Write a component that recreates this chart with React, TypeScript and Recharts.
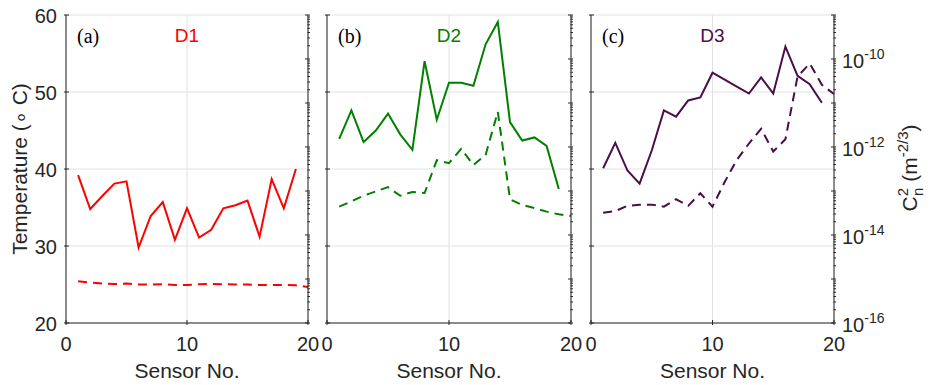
import React from 'react';
import { LineChart, Line, XAxis, YAxis, CartesianGrid } from 'recharts';

// sensor index along each detector
const sensors = [1, 2, 3, 4, 5, 6, 7, 8, 9, 10, 11, 12, 13, 14, 15, 16, 17, 18, 19, 20];
const sensorTicks = [0, 10, 20];
const tempTicks = [20, 30, 40, 50, 60];
const cn2Decades = [-16, -15, -14, -13, -12, -11, -10, -9];
const cn2LabelDecades = [-16, -14, -12, -10];

// temperature (solid, left axis)
const d1Temp = [39.2, 34.8, 36.5, 38.1, 38.4, 29.8, 33.9, 35.7, 30.8, 34.9, 31.1, 32.1, 34.9, 35.3, 35.9, 31.2, 38.7, 34.9, 40.0];
const d2Temp = [43.9, 47.6, 43.5, 45.0, 47.2, 44.5, 42.5, 54.0, 46.4, 51.2, 51.2, 50.8, 56.2, 59.1, 46.1, 43.7, 44.1, 43.0, 37.4];
const d3Temp = [40.1, 43.4, 39.8, 38.1, 42.4, 47.6, 46.8, 48.9, 49.3, 52.5, 51.6, 50.7, 49.8, 51.9, 49.8, 55.9, 52.1, 51.0, 48.6];

// Cn2 (dashed, right log axis)
const d1Cn2 = [8.9e-16, 8.3e-16, 7.9e-16, 7.7e-16, 7.9e-16, 7.5e-16, 7.5e-16, 7.6e-16, 7.3e-16, 7.3e-16, 7.6e-16, 7.7e-16, 7.6e-16, 7.5e-16, 7.5e-16, 7.3e-16, 7.3e-16, 7.3e-16, 7.2e-16, 6.6e-16];
const d2Cn2 = [4.4e-14, 5.8e-14, 7.8e-14, 9.8e-14, 1.23e-13, 7.8e-14, 9.5e-14, 9.0e-14, 5.0e-13, 4.3e-13, 9.1e-13, 3.9e-13, 6.6e-13, 6.3e-12, 6.5e-14, 4.8e-14, 4.1e-14, 3.4e-14, 2.95e-14, 2.7e-14];
const d3Cn2 = [3.2e-14, 3.5e-14, 4.6e-14, 4.9e-14, 4.9e-14, 4.4e-14, 6.5e-14, 4.6e-14, 8.9e-14, 4.4e-14, 1.6e-13, 5.1e-13, 1.2e-12, 2.6e-12, 7.9e-13, 1.5e-12, 4.0e-11, 7.9e-11, 2.6e-11, 1.6e-11];

const cn2Ticks = cn2Decades.flatMap((e) =>
    e === -9 ? [Math.pow(10, e)] : [1, 2, 3, 4, 5, 6, 7, 8, 9].map((m) => m * Math.pow(10, e))
);

const AXIS = '#262626';
const TXT = '#262626';
const FONT = '"Liberation Sans", Arial, sans-serif';
const H = 385;
const TOP = 15;
const XAXIS_H = 62;

const panels = [
    { key: 'a', name: 'D1', color: '#ff0000', temp: d1Temp, cn2: d1Cn2, plotLeft: 66, plotW: 242, leftW: 66, rightW: 1, padL: 0, padR: 16, leftLabels: true, rightLabels: false },
    { key: 'b', name: 'D2', color: '#008000', temp: d2Temp, cn2: d2Cn2, plotLeft: 327, plotW: 244, leftW: 1, rightW: 1, padL: 16, padR: 16, leftLabels: false, rightLabels: false },
    { key: 'c', name: 'D3', color: '#4a0d4a', temp: d3Temp, cn2: d3Cn2, plotLeft: 591, plotW: 243, leftW: 1, rightW: 95, padL: 16, padR: 0, leftLabels: false, rightLabels: true },
];

const LeftTick = (props: any) => {
    const { x, y, payload, showLabel } = props;
    return (
        <g>
            <line x1={x} x2={x + 5} y1={y} y2={y} stroke={AXIS} />
            {showLabel && (
                <text x={x - 7} y={y + 8} textAnchor="end" fontSize={20} fill={TXT} fontFamily={FONT}>
                    {payload.value}
                </text>
            )}
        </g>
    );
};

const RightTick = (props: any) => {
    const { x, y, payload, showLabel } = props;
    const lg = Math.log10(payload.value);
    const dec = Math.round(lg);
    const major = Math.abs(lg - dec) < 1e-6;
    const len = major ? 5 : 2.5;
    return (
        <g>
            <line x1={x} x2={x - len} y1={y} y2={y} stroke={AXIS} />
            {showLabel && major && cn2LabelDecades.includes(dec) && (
                <text x={x + 6} y={y + 9} fontSize={20} fill={TXT} fontFamily={FONT}>
                    10
                    <tspan dy={-9} fontSize={14}>{`${dec}`}</tspan>
                </text>
            )}
        </g>
    );
};

const BottomTick = (props: any) => {
    const { x, y, payload } = props;
    return (
        <g>
            <line x1={x} x2={x} y1={y} y2={y - 5} stroke={AXIS} />
            <text x={x} y={y + 26} textAnchor="middle" fontSize={20} fill={TXT} fontFamily={FONT}>
                {payload.value}
            </text>
        </g>
    );
};

const TopTick = (props: any) => {
    const { x, y } = props;
    return <line x1={x} x2={x} y1={y} y2={y + 5} stroke={AXIS} />;
};

const Panel = ({ p }: { p: (typeof panels)[number] }) => {
    const rows = sensors.map((s, i) => ({
        s,
        t: i < p.temp.length ? p.temp[i] : null,
        c: p.cn2[i],
    }));
    const width = p.padL + p.leftW + p.plotW + p.rightW + p.padR;
    return (
        <div style={{ position: 'absolute', left: p.plotLeft - p.leftW - p.padL, top: 0 }}>
            <LineChart width={width} height={H} data={rows} margin={{ top: TOP, right: p.padR, bottom: 0, left: p.padL }}>
                <CartesianGrid xAxisId="b" yAxisId="L" stroke="#e2e2e2" strokeWidth={1} />
                <XAxis
                    xAxisId="b"
                    dataKey="s"
                    type="number"
                    domain={[0, 20]}
                    ticks={sensorTicks}
                    interval={0}
                    height={XAXIS_H}
                    tickSize={0}
                    tickLine={false}
                    axisLine={{ stroke: AXIS }}
                    tick={BottomTick}
                />
                <XAxis
                    xAxisId="t"
                    orientation="top"
                    dataKey="s"
                    type="number"
                    domain={[0, 20]}
                    ticks={sensorTicks}
                    interval={0}
                    height={0}
                    tickSize={0}
                    tickLine={false}
                    axisLine={{ stroke: AXIS }}
                    tick={TopTick}
                />
                <YAxis
                    yAxisId="L"
                    orientation="left"
                    type="number"
                    domain={[20, 60]}
                    ticks={tempTicks}
                    interval={0}
                    width={p.leftW}
                    tickSize={0}
                    tickLine={false}
                    axisLine={{ stroke: AXIS }}
                    tick={(tp: any) => <LeftTick {...tp} showLabel={p.leftLabels} />}
                />
                <YAxis
                    yAxisId="R"
                    orientation="right"
                    type="number"
                    scale="log"
                    domain={[1e-16, 1e-9]}
                    allowDataOverflow
                    ticks={cn2Ticks}
                    interval={0}
                    width={p.rightW}
                    tickSize={0}
                    tickLine={false}
                    axisLine={{ stroke: AXIS }}
                    tick={(tp: any) => <RightTick {...tp} showLabel={p.rightLabels} />}
                />
                <Line
                    xAxisId="b"
                    yAxisId="L"
                    type="linear"
                    dataKey="t"
                    stroke={p.color}
                    strokeWidth={2}
                    dot={false}
                    activeDot={false}
                    isAnimationActive={false}
                />
                <Line
                    xAxisId="b"
                    yAxisId="R"
                    type="linear"
                    dataKey="c"
                    stroke={p.color}
                    strokeWidth={2}
                    strokeDasharray="9 6"
                    dot={false}
                    activeDot={false}
                    isAnimationActive={false}
                />
            </LineChart>
        </div>
    );
};

export default function App() {
    return (
        <div style={{ position: 'absolute', left: 0, top: 0, width: 929, height: H, background: '#fff', overflow: 'hidden' }}>
            {panels.map((p) => (
                <Panel key={p.key} p={p} />
            ))}
            <svg width={929} height={H} style={{ position: 'absolute', left: 0, top: 0, pointerEvents: 'none' }}>
                {panels.map((p) => {
                    const cx = p.plotLeft + p.plotW / 2;
                    return (
                        <g key={p.key}>
                            <text x={p.plotLeft + 11} y={43} fontSize={20} fill="#000" fontFamily='"Liberation Serif", "Times New Roman", serif'>
                                ({p.key})
                            </text>
                            <text x={cx} y={42} textAnchor="middle" fontSize={19} fill={p.color} fontFamily={FONT}>
                                {p.name}
                            </text>
                            <text x={cx} y={378} textAnchor="middle" fontSize={21} fill={TXT} fontFamily={FONT}>
                                Sensor No.
                            </text>
                        </g>
                    );
                })}
                <text x={27} y={169} transform="rotate(-90, 27, 169)" textAnchor="middle" fontSize={21} fill={TXT} fontFamily={FONT}>
                    Temperature (∘ C)
                </text>
                <text x={917} y={168} transform="rotate(-90, 917, 168)" textAnchor="middle" fontSize={21} fill={TXT} fontFamily={FONT}>
                    C
                    <tspan dy={-9} fontSize={15}>2</tspan>
                    <tspan dx={-8} dy={15} fontSize={15}>n</tspan>
                    <tspan dy={-6}> (m</tspan>
                    <tspan dy={-9} fontSize={15}>-2/3</tspan>
                    <tspan dy={9}>)</tspan>
                </text>
            </svg>
        </div>
    );
}
